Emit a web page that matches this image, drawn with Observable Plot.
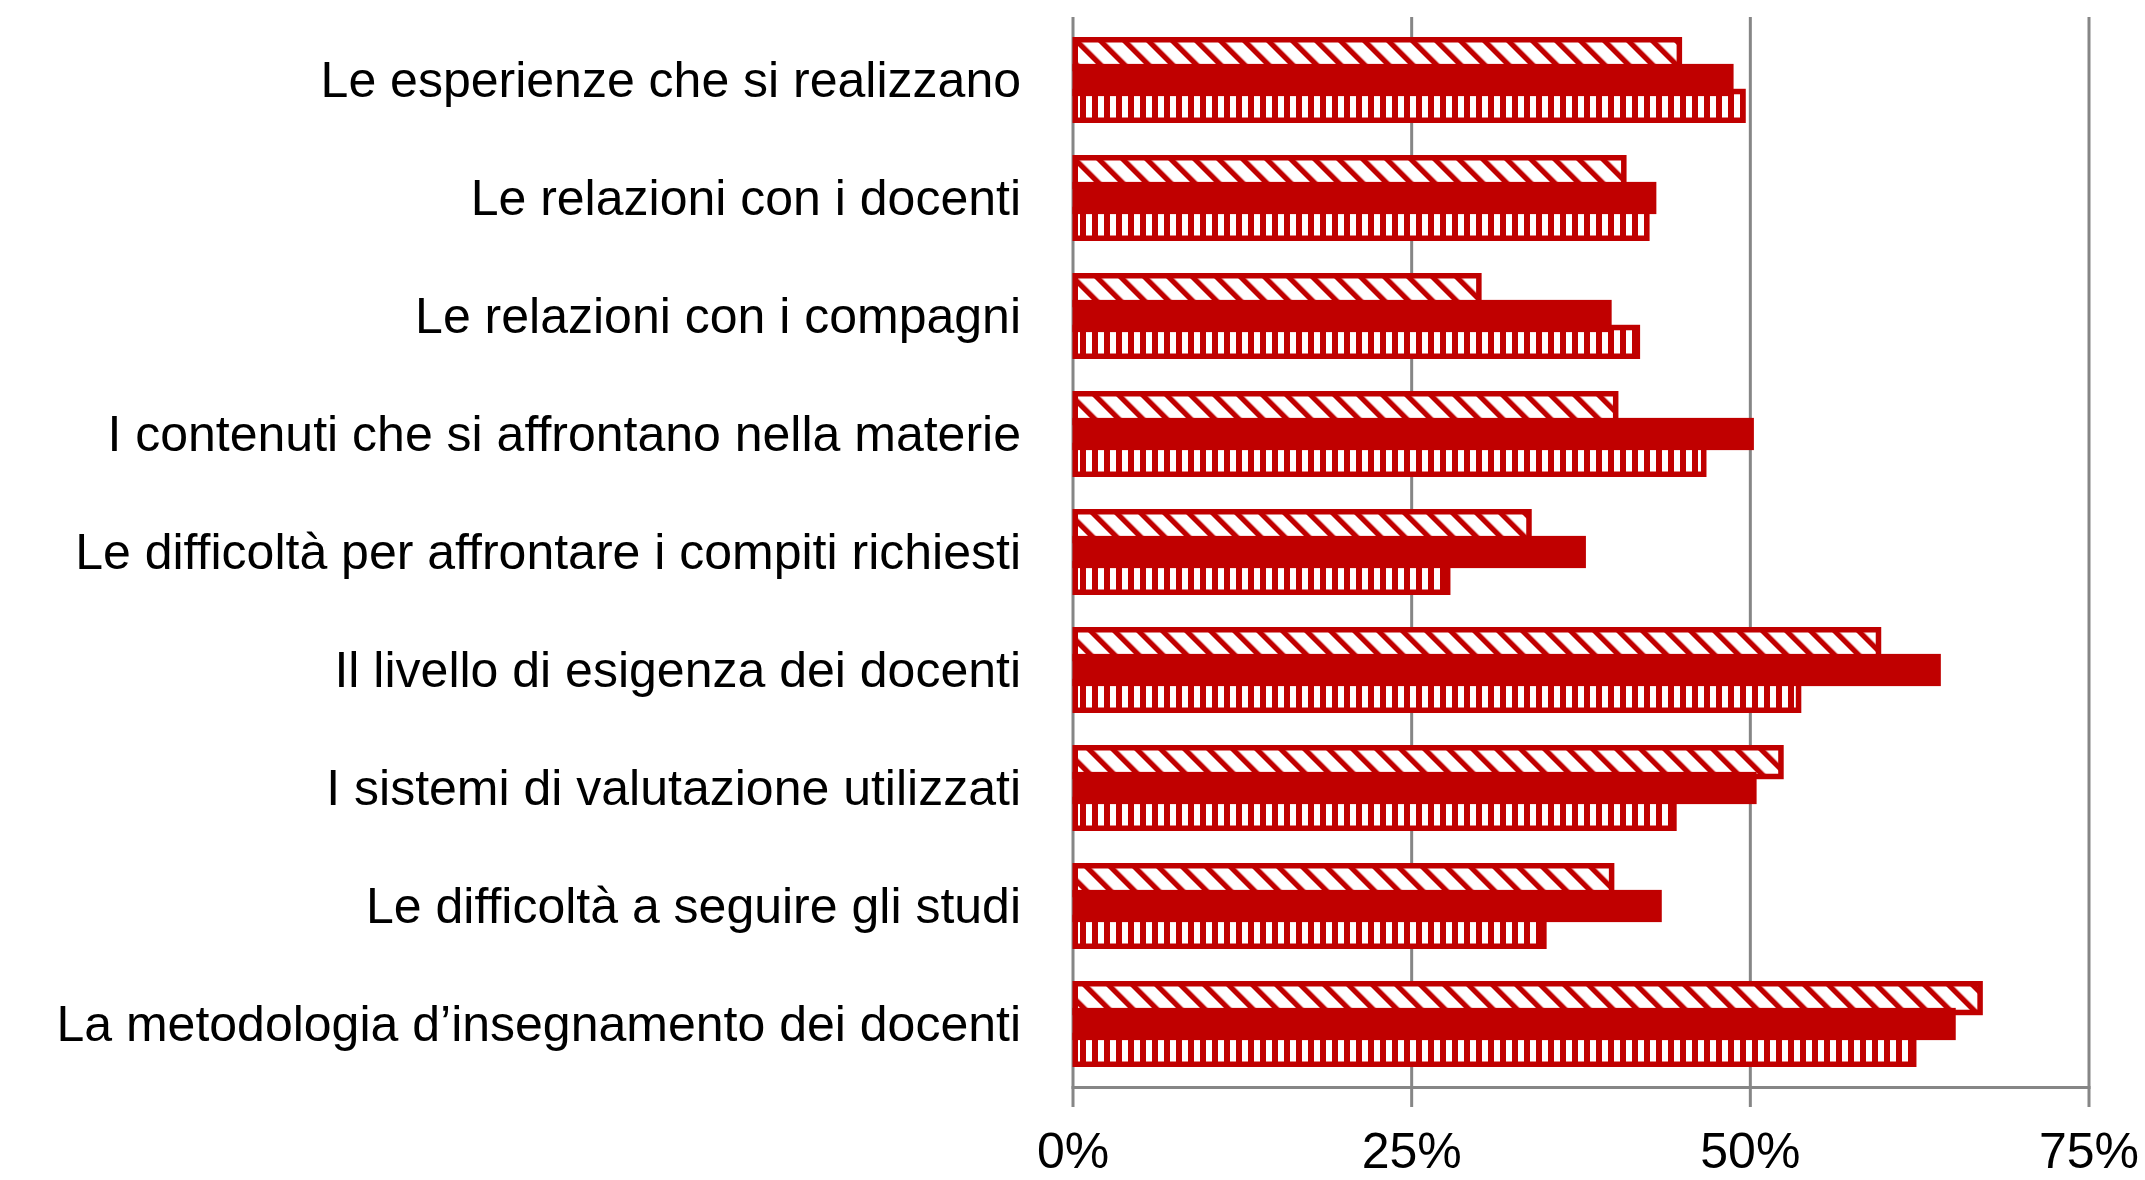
<!DOCTYPE html>
<html>
<head>
<meta charset="utf-8">
<script src="https://cdn.jsdelivr.net/npm/d3@7"></script>
<script src="https://cdn.jsdelivr.net/npm/@observablehq/plot@0.6"></script>
<style>
  html, body { margin: 0; padding: 0; background: #ffffff; }
  #chart svg { display: block; }
</style>
</head>
<body>
<div id="chart"></div>
<script>
// ---- Data ----
const categories = [
  "Le esperienze che si realizzano",
  "Le relazioni con i docenti",
  "Le relazioni con i compagni",
  "I contenuti che si affrontano nella materie",
  "Le difficoltà per affrontare i compiti richiesti",
  "Il livello di esigenza dei docenti",
  "I sistemi di valutazione utilizzati",
  "Le difficoltà a seguire gli studi",
  "La metodologia d’insegnamento dei docenti"
];
const seriesNames = ["Serie 1", "Serie 2", "Serie 3"];
// percentages (diagonal hatch, solid, vertical stripes)
const serie1 = [45.0, 40.9, 30.2, 40.3, 33.9, 59.7, 52.5, 40.0, 67.2];
const serie2 = [48.8, 43.1, 39.8, 50.3, 37.9, 64.1, 50.5, 43.5, 65.2];
const serie3 = [49.7, 42.6, 41.9, 46.8, 27.9, 53.8, 44.6, 35.0, 62.3];
const xTicks = [0, 0.25, 0.5, 0.75];

// ---- Layout ----
const W = 2145, H = 1180;
const mTop = 17, mBottom = 93, mLeft = 1072.5, mRight = 56.5;
const padIn = 0.275, padOut = 0.152;
const step = (H - mTop - mBottom) / (categories.length - padIn + 2 * padOut);
const bw = step * (1 - padIn);
const slot = bw / 3;
const sw = 5.5;
const RED = "#C00000";
const GRID = "#868686";

const seriesValues = [serie1, serie2, serie3];
const rows = seriesNames.map((s, k) =>
  categories.map((c, i) => ({categoria: c, serie: s, valore: seriesValues[k][i] / 100}))
);

const fills = ["url(#diag)", RED, "url(#vert)"];

const chart = Plot.plot({
  width: W,
  height: H,
  marginTop: mTop,
  marginBottom: mBottom,
  marginLeft: mLeft,
  marginRight: mRight,
  style: {fontFamily: "'Liberation Sans', Arial, sans-serif", fontSize: "50px", color: "#000", background: "#fff"},
  x: {domain: [0, 0.75], ticks: xTicks, tickFormat: d3.format(".0%"), tickSize: 0, tickPadding: 45, label: null},
  y: {domain: categories, paddingInner: padIn, paddingOuter: padOut, tickSize: 0, tickPadding: 52, label: null},
  marks: [
    Plot.ruleX(xTicks, {stroke: GRID, strokeWidth: 3, insetBottom: -20}),
    // top bar: diagonal hatch
    Plot.barX(rows[0], {x: "valore", y: "categoria", fill: fills[0], stroke: RED, strokeWidth: sw,
      insetTop: sw / 2, insetBottom: 2 * slot - sw / 2, insetLeft: sw / 2, insetRight: sw / 2}),
    // bottom bar: vertical stripes
    Plot.barX(rows[2], {x: "valore", y: "categoria", fill: fills[2], stroke: RED, strokeWidth: sw,
      insetTop: 2 * slot - sw / 2, insetBottom: sw / 2, insetLeft: sw / 2, insetRight: sw / 2}),
    // middle bar: solid
    Plot.barX(rows[1], {x: "valore", y: "categoria", fill: fills[1], stroke: RED, strokeWidth: 3.5,
      insetTop: slot, insetBottom: slot, insetLeft: 1.75, insetRight: 1.75}),
    Plot.frame({anchor: "bottom", stroke: GRID, strokeWidth: 3})
  ]
});

document.getElementById("chart").appendChild(chart);

// ---- Pattern definitions ----
const svg = d3.select("#chart").select("svg");
const defs = svg.insert("defs", ":first-child");
const dp = 24 / Math.SQRT2;
const diag = defs.append("pattern")
  .attr("id", "diag").attr("patternUnits", "userSpaceOnUse")
  .attr("width", dp).attr("height", dp)
  .attr("patternTransform", "rotate(-45)");
diag.append("rect").attr("width", dp).attr("height", dp).attr("fill", "#fff");
diag.append("rect").attr("width", 7.5 / Math.SQRT2).attr("height", dp).attr("fill", RED);

const vert = defs.append("pattern")
  .attr("id", "vert").attr("patternUnits", "userSpaceOnUse")
  .attr("width", 12).attr("height", 12);
vert.append("rect").attr("width", 12).attr("height", 12).attr("fill", "#fff");
vert.append("rect").attr("width", 6).attr("height", 12).attr("fill", RED)
  .attr("shape-rendering", "crispEdges");
</script>
</body>
</html>
